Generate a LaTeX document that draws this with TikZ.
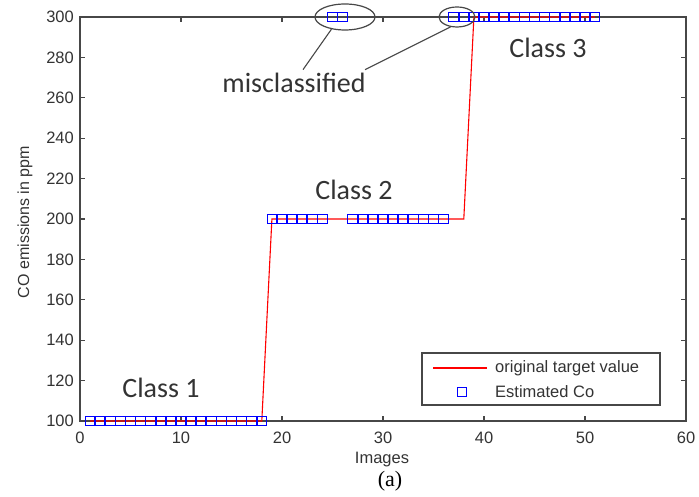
\documentclass[tikz,border=0pt]{standalone}
\usepackage{fontspec}
\setmainfont{Liberation Serif}
\setsansfont{Liberation Sans}
\newfontfamily\calibri{Carlito}
\usetikzlibrary{shapes.geometric}

\begin{document}
\begin{tikzpicture}
	[
	x=1pt, y=1pt,
	axis/.style={draw=black!72, line width=1.3pt},
	tick/.style={font=\sffamily\fontsize{16.5}{16.5}\selectfont, text=black!80, inner sep=0pt},
	target/.style={draw=red, line width=1.1pt},
	est/.style={rectangle, draw=blue, line width=1pt, minimum size=9.5pt, inner sep=0pt},
	class/.style={font=\calibri\fontsize{28}{28}\selectfont, text=black!80},
	ring/.style={ellipse, draw=black!72, line width=1.2pt, inner sep=0pt}
	]
		\useasboundingbox (0,0) rectangle (699,497);
		
		% data frame (images / ppm)
		\begin{scope}[shift={(80pt,-126pt)}, x=10.1pt, y=2.02pt]
			% frame and ticks
			\draw [axis] (0,100) rectangle (60,300);
			\foreach \x in {10,20,...,50} \draw [axis] (\x,100) -- ++(0pt,5pt) (\x,300) -- ++(0pt,-5pt);
			\foreach \y in {120,140,...,280} \draw [axis] (0,\y) -- ++(5pt,0pt) (60,\y) -- ++(-5pt,0pt);
			\foreach \x in {0,10,...,60} \node (xl\x) [tick, anchor=north] at ([yshift=-11pt]\x,100) {\x};
			\foreach \y in {100,120,...,300} \node (yl\y) [tick, anchor=east] at ([xshift=-6pt]0,\y) {\y};
			
			% original target value
			\draw [target] (1,100) -- (18,100) -- (19,200) -- (38,200) -- (39,300) -- (51,300);
			
			% estimated values
			\foreach \i in {1,...,18} \node (e\i) [est] at (\i,100) {};
			\foreach \i in {19,...,24} \node (e\i) [est] at (\i,200) {};
			\foreach \i in {25,26} \node (e\i) [est] at (\i,300) {};
			\foreach \i in {27,...,36} \node (e\i) [est] at (\i,200) {};
			\foreach \i in {37,...,51} \node (e\i) [est] at (\i,300) {};
		\end{scope}
		
		% axis titles
		\node (xt) [tick, anchor=base] at (382, 33) {Images};
		\node (yt) [tick, rotate=90, font=\sffamily\fontsize{16}{16}\selectfont] at (25, 275) {CO emissions in ppm};
		\node (cap) [font=\fontsize{22}{22}\selectfont] at (390, 16) {(a)};
		
		% classes
		\node (c1) [class] at (161, 109) {Class 1};
		\node (c2) [class] at (354, 307) {Class 2};
		\node (c3) [class] at (548, 449) {Class 3};
		
		% misclassified
		\node (mis1) [ring, minimum width=60pt, minimum height=26pt] at (345, 480) {};
		\node (mis2) [ring, minimum width=36pt, minimum height=20pt] at (457, 480) {};
		\node (miscls) [class] at (294, 414) {misclassified};
		\draw [draw=black!72, line width=1.1pt] ([xshift=9pt]miscls.north) -- (mis1.222);
		\draw [draw=black!72, line width=1.1pt] ([xshift=71pt]miscls.north) -- (mis2.237);
		
		% legend
		\node (leg) [draw=black!72, line width=1.3pt, minimum width=238pt, minimum height=52pt, inner sep=0pt] at (541, 118) {};
		\coordinate (la) at (433, 129);
		\coordinate (lb) at (487, 129);
		\draw [target] (la) -- (lb);
		\node (lsq) [est] at (462, 105) {};
		\node (lt1) [tick, anchor=base west] at (495, 124) {original target value};
		\node (lt2) [tick, anchor=base west] at (495, 99) {Estimated Co};
	\end{tikzpicture}
\end{document}
